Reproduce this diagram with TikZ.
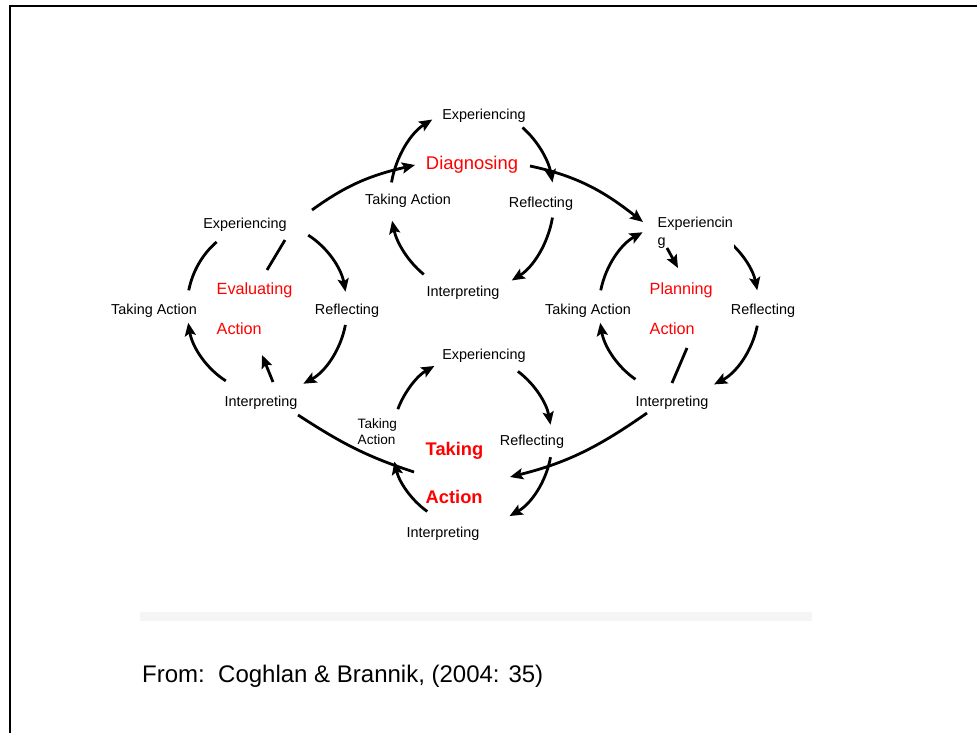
\documentclass[tikz,border=0pt]{standalone}
\usepackage{fontspec}
\setmainfont{Liberation Sans}
\usetikzlibrary{arrows.meta,calc}
\definecolor{stagered}{RGB}{255,0,0}
\begin{document}
\begin{tikzpicture}[x=1pt,y=-1pt,
  cyc/.style={line width=2.8pt, black},
  arr/.style={cyc, -{Stealth[length=13pt,width=11pt,inset=2.5pt]}},
  lbl/.style={font=\fontsize{14.4}{16}\selectfont, fill=white, inner sep=1.5pt, yshift=-2pt},
  stage/.style={font=\fontsize{16.2}{19}\selectfont, text=stagered, fill=white, inner sep=1.5pt, anchor=west, yshift=-2pt},
  bigstage/.style={stage, font=\bfseries\fontsize{18.3}{22}\selectfont}]
\useasboundingbox (0,0) rectangle (977,733);
\fill[white] (0,0) rectangle (977,733);
% page frame (top and left rules)
\draw[line width=2.3pt] (10,733) -- (10,6) -- (977,6);
% faint band below the diagram
\fill[black!4] (140,612) rectangle (812,621);

% centres of the four cycles
\coordinate (cD) at (472,200);
\coordinate (cE) at (267,308);
\coordinate (cP) at (679,308);
\coordinate (cT) at (472,441);

% Diagnosing cycle
\draw[arr] ($(cD)+(191:82 and 92)$) arc[start angle=191,end angle=241,x radius=82,y radius=92];
\draw[arr] ($(cD)+(308:82 and 92)$) arc[start angle=308,end angle=349,x radius=82,y radius=92];
\draw[arr] ($(cD)+(11:82 and 92)$) arc[start angle=11,end angle=61,x radius=82,y radius=92];
\draw[arr] ($(cD)+(126:82 and 92)$) arc[start angle=126,end angle=167,x radius=82,y radius=92];

% Evaluating Action cycle
\draw[arr] ($(cE)+(-59:80 and 85)$) arc[start angle=-59,end angle=-11,x radius=80,y radius=85];
\draw[arr] ($(cE)+(11.5:80 and 85)$) arc[start angle=11.5,end angle=63,x radius=80,y radius=85];
\draw[arr] ($(cE)+(121:80 and 85)$) arc[start angle=121,end angle=170,x radius=80,y radius=85];
\draw[cyc] ($(cE)+(192:80 and 85)$) arc[start angle=192,end angle=231,x radius=80,y radius=85];

% Planning Action cycle
\draw[arr] ($(cP)+(192:80 and 85)$) arc[start angle=192,end angle=243,x radius=80,y radius=85];
\draw[arr] ($(cP)+(-55:80 and 85)$) arc[start angle=-55,end angle=-12,x radius=80,y radius=85];
\draw[arr] ($(cP)+(12:80 and 85)$) arc[start angle=12,end angle=64,x radius=80,y radius=85];
\draw[arr] ($(cP)+(123:80 and 85)$) arc[start angle=123,end angle=170,x radius=80,y radius=85];

% Taking Action cycle
\draw[arr] ($(cT)+(202:80 and 85)$) arc[start angle=202,end angle=242,x radius=80,y radius=85];
\draw[arr] ($(cT)+(-55:80 and 85)$) arc[start angle=-55,end angle=-11,x radius=80,y radius=85];
\draw[arr] ($(cT)+(11:80 and 85)$) arc[start angle=11,end angle=62,x radius=80,y radius=85];
\draw[arr] ($(cT)+(124:80 and 85)$) arc[start angle=124,end angle=166,x radius=80,y radius=85];

% labels: Diagnosing cycle
\node[lbl] (dExp) at (484,114) {Experiencing};
\node[stage, anchor=center, font=\fontsize{18.4}{22}\selectfont] (dDiag) at (472,163) {Diagnosing};
\node[lbl] (dRefl) at (541,202) {Reflecting};
\node[lbl] (dInt) at (463,291) {Interpreting};
\node[lbl] (dTA) at (408,199) {Taking Action};

% labels: Evaluating Action cycle
\node[lbl] (eExp) at (245,223) {Experiencing};
\node[lbl] (eTA) at (154,309) {Taking Action};
\node[lbl] (eRefl) at (347,309) {Reflecting};
\node[lbl] (eInt) at (261,401) {Interpreting};
\node[stage] (eEval) at (215,288) {Evaluating};
\node[stage] (eAct) at (215,327) {Action};

% labels: Planning Action cycle
\node[lbl, align=left, anchor=west, font=\fontsize{14.4}{18}\selectfont] (pExp) at (656,231) {Experiencin\\g};
\node[lbl] (pTA) at (588,309) {Taking Action};
\node[lbl] (pRefl) at (763,309) {Reflecting};
\node[lbl] (pInt) at (672,401) {Interpreting};
\node[stage] (pPlan) at (648,288) {Planning};
\node[stage] (pAct) at (648,327) {Action};

% labels: Taking Action cycle
\node[lbl] (tExp) at (484,354) {Experiencing};
\node[lbl, align=left, anchor=west, font=\fontsize{13.6}{16}\selectfont] (tTA) at (356,430) {Taking\\Action};
\node[lbl] (tRefl) at (532,440) {Reflecting};
\node[lbl] (tInt) at (443,532) {Interpreting};
\node[bigstage] (tTake) at (424,449) {Taking};
\node[bigstage] (tAct) at (424,495) {Action};

% inner strokes of the side cycles
\draw[cyc] ($(eExp)+(40,15)$) -- ($(eExp)+(22,45)$);
\draw[arr] ($(eInt)+(12,-21)$) -- ($(eInt)+(1,-48)$);
\draw[arr] ($(pExp.west)+(11,15)$) -- ($(pExp.west)+(22,35)$);
\draw[cyc] ($(pInt)+(15,-55)$) -- ($(pInt)+(0,-20)$);

% links between the cycles
\draw[arr] ($(eExp)+(67,-15)$) to[out=36,in=193] ($(dDiag)+(-57,0)$);
\draw[arr] ($(dDiag)+(58,1)$) to[out=-12,in=142] ($(pExp.west)+(-13,-11)$);
\draw[arr] ($(pInt)+(-25,10)$) to[out=215,in=14] ($(tTake.west)+(86,26)$);
\draw[cyc] ($(eInt)+(37,12)$) to[out=-33,in=162] ($(tTake.west)+(-10,21)$);

% source line
\node[font=\fontsize{24}{28}\selectfont, anchor=west, inner sep=0pt] (credit) at (142,676) {From:\ \ Coghlan \& Brannik, (2004: 35)};
\end{tikzpicture}
\end{document}
